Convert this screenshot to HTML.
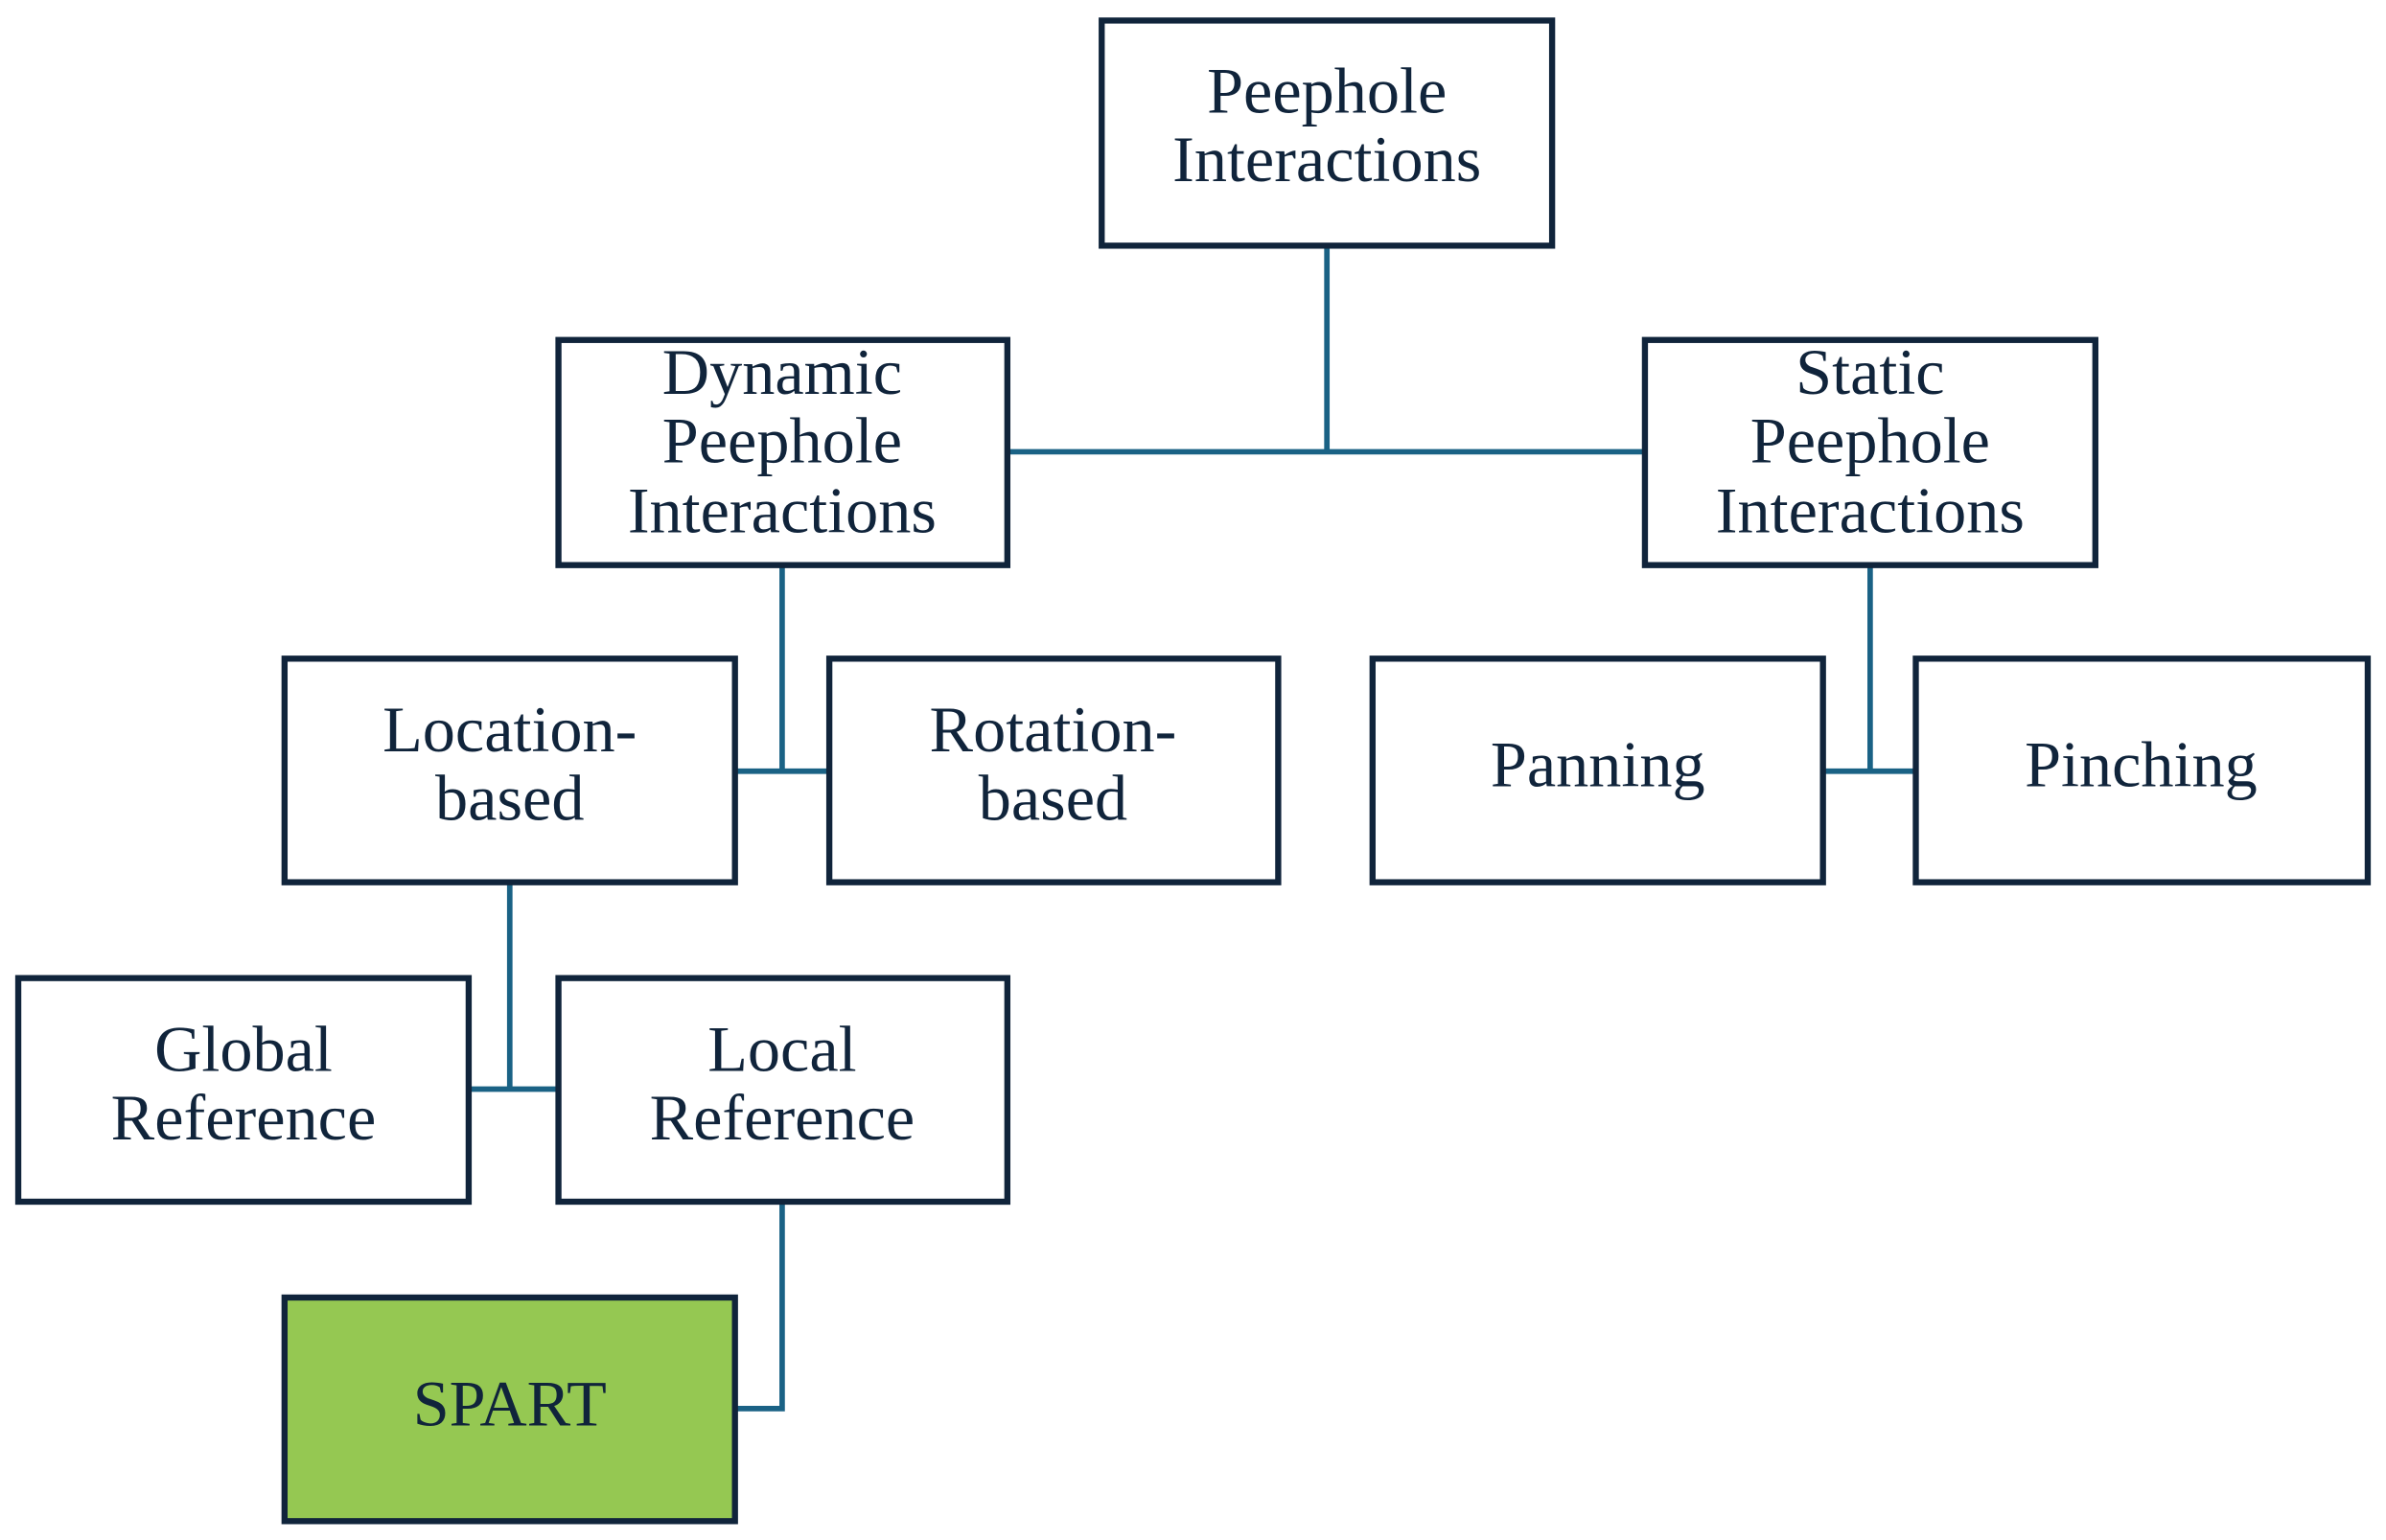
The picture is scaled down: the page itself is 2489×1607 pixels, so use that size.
<!DOCTYPE html>
<html><head><meta charset="utf-8"><style>
html,body{margin:0;padding:0;background:#fff;}
svg{display:block;}
text{font-family:"Liberation Serif",serif;font-size:43px;fill:#10243b;text-anchor:middle;}
</style></head><body>
<svg width="2489" height="1607" viewBox="0 0 1568 1012.4" preserveAspectRatio="none" xmlns="http://www.w3.org/2000/svg">
<g fill="none" stroke="#1a6285" stroke-width="3.6">
<polyline points="872,161 872,297"/>
<polyline points="662,297 1081,297"/>
<polyline points="514,372 514,507"/>
<polyline points="483,507 545,507"/>
<polyline points="1229,372 1229,507"/>
<polyline points="1198,507 1259,507"/>
<polyline points="335,580 335,716"/>
<polyline points="308,716 367,716"/>
<polyline points="514,790 514,926 483,926"/>
</g>
<g fill="#fff" stroke="#10243b" stroke-width="4">
<rect x="724" y="13.5" width="296" height="148"/>
<rect x="367" y="223.5" width="295" height="148"/>
<rect x="1081" y="223.5" width="296" height="148"/>
<rect x="187" y="433" width="296" height="147"/>
<rect x="545" y="433" width="295" height="147"/>
<rect x="902" y="433" width="296" height="147"/>
<rect x="1259" y="433" width="297" height="147"/>
<rect x="12" y="643" width="296" height="147"/>
<rect x="367" y="643" width="295" height="147"/>
<rect x="187" y="853" width="296" height="147" fill="#95c852"/>
</g>
<text x="872" y="74">Peephole</text>
<text x="872" y="119">Interactions</text>
<text x="514" y="259">Dynamic</text>
<text x="514" y="304">Peephole</text>
<text x="514" y="350">Interactions</text>
<text x="1229" y="259">Static</text>
<text x="1229" y="304">Peephole</text>
<text x="1229" y="350">Interactions</text>
<text x="335" y="494">Location-</text>
<text x="335" y="539">based</text>
<text x="692" y="494">Rotation-</text>
<text x="692" y="539">based</text>
<text x="1050" y="517">Panning</text>
<text x="1407" y="517">Pinching</text>
<text x="160" y="704">Global</text>
<text x="160" y="749">Reference</text>
<text x="514" y="704">Local</text>
<text x="514" y="749">Reference</text>
<text x="335" y="937">SPART</text>
</svg>
</body></html>
